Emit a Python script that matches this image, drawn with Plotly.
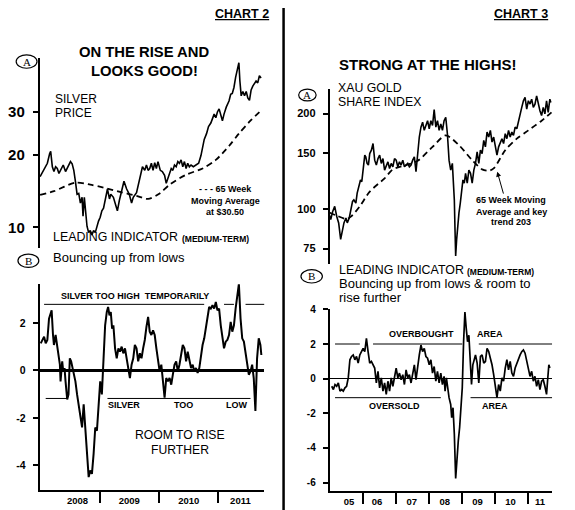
import plotly.graph_objects as go

# the page puts the figure 8px in from the top-left corner, so draw in a
# slightly smaller canvas and shift every reference pixel by that offset
PAGE_W, PAGE_H = 575, 510
OFF = 8
W, H = PAGE_W - OFF, PAGE_H - OFF
SANS = "Liberation Sans, Arial, sans-serif"
SERIF = "Liberation Serif, Times New Roman, serif"

# ---- CHART 2: silver price (decimal years, $) ----
silver_t = [2008.000, 2008.039, 2008.094, 2008.122, 2008.161, 2008.178, 2008.206, 2008.233, 2008.261, 2008.289,
            2008.317, 2008.344, 2008.389, 2008.428, 2008.456, 2008.511, 2008.539, 2008.567, 2008.594, 2008.622,
            2008.650, 2008.678, 2008.706, 2008.722, 2008.744, 2008.761, 2008.789, 2008.817, 2008.844, 2008.872,
            2008.900, 2008.928, 2008.956, 2008.983,
            2009.011, 2009.039, 2009.067, 2009.094, 2009.133, 2009.167, 2009.189, 2009.233, 2009.261, 2009.300,
            2009.333, 2009.372, 2009.411, 2009.456, 2009.500, 2009.539, 2009.567, 2009.622, 2009.667, 2009.689,
            2009.722, 2009.761, 2009.789, 2009.817, 2009.844, 2009.872, 2009.900, 2009.928, 2009.956, 2009.983,
            2010.022, 2010.056, 2010.094, 2010.122, 2010.150, 2010.178, 2010.206, 2010.233, 2010.261, 2010.289,
            2010.317, 2010.344, 2010.372, 2010.400, 2010.428, 2010.456, 2010.483, 2010.511, 2010.539, 2010.578,
            2010.622, 2010.667, 2010.706, 2010.733, 2010.761, 2010.800, 2010.833, 2010.872, 2010.900, 2010.928,
            2010.956, 2010.983,
            2011.011, 2011.039, 2011.067, 2011.094, 2011.133, 2011.178, 2011.206, 2011.233, 2011.261, 2011.289,
            2011.317, 2011.344, 2011.361, 2011.383, 2011.411, 2011.439, 2011.467, 2011.494, 2011.522, 2011.550,
            2011.578, 2011.606, 2011.633, 2011.661, 2011.689, 2011.717]
silver_price = [16.2, 16.9, 17.8, 18.4, 20.2, 20.6, 17.8, 17.0, 17.8, 17.5,
                16.7, 17.2, 18.1, 17.0, 17.5, 18.7, 18.3, 17.2, 15.5, 13.7,
                13.8, 12.6, 13.3, 11.1, 13.3, 11.7, 10.1, 9.5, 9.7, 9.3,
                9.7, 9.5, 10.1, 10.6,
                11.0, 11.7, 12.0, 12.9, 14.4, 13.1, 13.7, 13.3, 12.6, 11.7,
                12.9, 14.2, 15.5, 14.4, 13.7, 12.6, 13.3, 13.9, 15.5, 16.7,
                17.8, 17.2, 18.1, 17.2, 17.5, 18.4, 17.2, 18.5, 17.5, 18.7,
                17.2, 17.0, 16.4, 15.2, 16.0, 16.7, 17.5, 17.2, 18.1, 17.8,
                18.7, 18.4, 19.0, 17.8, 18.7, 17.5, 18.4, 17.8, 18.1, 17.8,
                18.1, 18.4, 19.8, 21.7, 23.1, 24.4, 26.1, 27.0, 28.1, 29.4,
                28.4, 30.0,
                30.9, 29.4, 27.6, 29.4, 31.5, 33.3, 35.5, 35.8, 37.9, 41.7,
                44.2, 48.0, 40.3, 35.0, 36.5, 35.0, 36.5, 34.3, 33.5, 37.0,
                38.4, 39.2, 40.3, 39.6, 42.4, 41.5]

silver_ma_t = [2008.000, 2008.233, 2008.594, 2008.844, 2009.067, 2009.344, 2009.622, 2009.817, 2010.011,
               2010.178, 2010.456, 2010.733, 2010.956, 2011.178, 2011.344, 2011.539, 2011.717]
silver_ma = [13.6, 14.1, 15.3, 15.0, 14.6, 14.0, 13.5, 13.1, 13.8,
             15.0, 16.5, 17.5, 19.0, 21.7, 24.4, 27.6, 30.4]

silver_ind_t = [2008.011, 2008.039, 2008.067, 2008.094, 2008.122, 2008.150, 2008.178, 2008.194, 2008.217, 2008.233,
                2008.261, 2008.289, 2008.317, 2008.333, 2008.344, 2008.372, 2008.389, 2008.411, 2008.428, 2008.456,
                2008.478, 2008.500, 2008.522, 2008.556, 2008.594, 2008.622, 2008.650, 2008.678, 2008.706, 2008.733,
                2008.761, 2008.789, 2008.817, 2008.844, 2008.872, 2008.900, 2008.928, 2008.956, 2008.983,
                2009.011, 2009.039, 2009.067, 2009.094, 2009.122, 2009.144, 2009.167, 2009.189, 2009.211, 2009.233,
                2009.261, 2009.289, 2009.317, 2009.344, 2009.372, 2009.400, 2009.428, 2009.456, 2009.483, 2009.511,
                2009.539, 2009.567, 2009.594, 2009.622, 2009.650, 2009.678, 2009.706, 2009.733, 2009.761, 2009.789,
                2009.817, 2009.844, 2009.872, 2009.900, 2009.928, 2009.956, 2009.983,
                2010.011, 2010.039, 2010.067, 2010.094, 2010.122, 2010.150, 2010.178, 2010.206, 2010.233, 2010.261,
                2010.289, 2010.317, 2010.344, 2010.372, 2010.400, 2010.428, 2010.456, 2010.483, 2010.511, 2010.539,
                2010.567, 2010.594, 2010.622, 2010.650, 2010.678, 2010.706, 2010.733, 2010.761, 2010.789, 2010.817,
                2010.844, 2010.872, 2010.900, 2010.928, 2010.956, 2010.983,
                2011.011, 2011.039, 2011.067, 2011.094, 2011.122, 2011.150, 2011.178, 2011.206, 2011.233, 2011.261,
                2011.289, 2011.317, 2011.344, 2011.372, 2011.400, 2011.428, 2011.456, 2011.483, 2011.511, 2011.539,
                2011.567, 2011.594, 2011.622, 2011.650, 2011.678, 2011.706, 2011.722]
silver_ind = [1.14, 1.28, 1.42, 1.14, 1.28, 2.18, 2.46, 2.53, 1.49, 1.07,
              1.49, 0.93, 0.51, 0.24, -0.46, 0.38, -0.04, 0.10, -0.46, -1.22,
              -1.01, 0.51, 0.38, -0.04, -0.46, -1.01, -1.43, -1.99, -2.40, -1.43,
              -2.54, -3.51, -4.49, -4.21, -4.35, -3.51, -2.40, -2.54, -1.29,
              -0.46, -1.01, 0.24, 1.90, 2.46, 2.67, 2.32, 2.46, 1.76, 1.90,
              0.93, 0.51, 0.93, 0.79, 1.00, 0.72, 0.93, 0.38, 0.10, -0.32,
              0.24, 0.51, 1.07, 0.93, 0.38, 0.72, 0.51, 0.93, 1.28, 1.83,
              2.25, 1.63, 1.49, 1.69, 1.49, 0.93, 0.38,
              -0.04, 0.24, -0.46, -1.15, -0.32, -0.46, -0.32, -0.60, -0.18, 0.24,
              0.38, -0.04, 0.24, 0.72, 1.07, 0.93, 0.38, 0.79, 0.44, 0.10,
              0.24, -0.04, 0.10, -0.11, 0.10, 0.65, 1.07, 1.35, 1.76, 2.18,
              2.67, 2.60, 2.74, 2.60, 2.88, 2.53,
              2.60, 1.90, 1.35, 0.93, 1.21, 1.28, 1.49, 2.04, 1.63, 1.90,
              2.60, 3.15, 3.64, 2.18, 1.35, 1.21, 0.79, 0.38, -0.18, -0.04,
              0.24, -0.32, -1.71, 0.51, 1.35, 1.07, 0.65]

# ---- CHART 3: XAU gold share index ----
xau_t = [2004.98, 2005.02, 2005.08, 2005.14, 2005.20, 2005.26, 2005.32, 2005.36, 2005.42, 2005.48,
         2005.52, 2005.58, 2005.62, 2005.68, 2005.72, 2005.78, 2005.82, 2005.88, 2005.92, 2005.96,
         2006.00, 2006.05, 2006.08, 2006.12, 2006.16, 2006.20, 2006.25, 2006.30, 2006.35, 2006.40,
         2006.45, 2006.50, 2006.55, 2006.60, 2006.65, 2006.70, 2006.75, 2006.80, 2006.85, 2006.90,
         2006.95, 2007.00, 2007.05, 2007.10, 2007.15, 2007.20, 2007.25, 2007.30, 2007.35, 2007.40,
         2007.45, 2007.50, 2007.55, 2007.60, 2007.65, 2007.70, 2007.75, 2007.80, 2007.85, 2007.90,
         2007.95, 2008.00, 2008.05, 2008.10, 2008.15, 2008.20, 2008.25, 2008.30, 2008.35, 2008.40,
         2008.45, 2008.50, 2008.55, 2008.60, 2008.65, 2008.70, 2008.73, 2008.76, 2008.78, 2008.80,
         2008.83, 2008.86, 2008.90, 2008.94, 2008.98, 2009.02, 2009.06, 2009.10, 2009.15, 2009.20,
         2009.25, 2009.30, 2009.35, 2009.40, 2009.45, 2009.50, 2009.55, 2009.60, 2009.65, 2009.70,
         2009.75, 2009.80, 2009.85, 2009.90, 2009.95, 2010.00, 2010.05, 2010.10, 2010.15, 2010.20,
         2010.25, 2010.30, 2010.35, 2010.40, 2010.45, 2010.50, 2010.55, 2010.60, 2010.65, 2010.70,
         2010.75, 2010.80, 2010.85, 2010.90, 2010.95, 2011.00, 2011.05, 2011.10, 2011.15, 2011.20,
         2011.25, 2011.30, 2011.35, 2011.40, 2011.45, 2011.50, 2011.55, 2011.60, 2011.65, 2011.68]
xau = [96.0, 92.6, 98.3, 101.9, 94.9, 90.4, 80.2, 84.1, 90.4, 93.7,
       90.4, 93.7, 99.5, 105.7, 106.9, 104.4, 112.2, 120.6, 123.5, 122.0,
       135.9, 147.9, 146.1, 139.3, 137.6, 149.6, 153.3, 160.9, 142.6, 137.6,
       144.3, 147.9, 139.3, 144.3, 132.7, 137.6, 140.9, 134.3, 139.3, 135.9,
       144.3, 142.6, 135.9, 140.9, 137.6, 142.6, 135.9, 137.6, 139.3, 135.9,
       137.6, 142.6, 146.1, 131.1, 151.4, 168.7, 181.3, 187.8, 177.1, 183.5,
       190.0, 179.2, 190.0, 183.5, 206.0, 181.3, 190.0, 177.1, 185.6, 177.1,
       190.0, 194.8, 172.8, 142.6, 132.7, 139.3, 120.6, 106.9, 86.2, 71.1,
       80.2, 88.3, 97.2, 104.4, 114.9, 123.5, 120.6, 129.6, 120.6, 132.7,
       129.6, 120.6, 132.7, 139.3, 151.4, 139.3, 153.3, 149.6, 164.6, 157.1,
       174.9, 168.7, 177.1, 162.7, 168.7, 159.0, 147.9, 157.1, 162.7, 166.7,
       160.9, 172.8, 166.7, 177.1, 168.7, 174.9, 170.7, 181.3, 179.2, 190.0,
       199.6, 209.3, 219.6, 224.9, 206.8, 219.6, 214.3, 222.2, 209.3, 214.3,
       227.5, 214.3, 204.2, 197.3, 209.3, 199.6, 219.6, 201.9, 222.2, 216.9]

xau_ma_t = [2004.98, 2005.20, 2005.50, 2005.65, 2005.90, 2006.20, 2006.65, 2006.90, 2007.30, 2007.65, 2008.10,
            2008.50, 2008.90, 2009.30, 2009.60, 2009.80, 2009.95, 2010.30, 2010.65, 2011.00, 2011.40, 2011.70]
xau_ma = [97.5, 95.3, 93.0, 95.0, 102.0, 113.5, 125.0, 133.4, 137.6, 141.9, 157.0,
          170.7, 159.0, 142.6, 133.4, 132.1, 134.3, 153.3, 166.7, 177.1, 190.0, 201.9]

xau_ind_t = [2005.05, 2005.10, 2005.15, 2005.20, 2005.25, 2005.30, 2005.35, 2005.40, 2005.45, 2005.50,
             2005.55, 2005.60, 2005.65, 2005.70, 2005.75, 2005.80, 2005.85, 2005.90, 2005.95, 2006.00,
             2006.05, 2006.10, 2006.15, 2006.20, 2006.25, 2006.30, 2006.35, 2006.40, 2006.45, 2006.50,
             2006.55, 2006.60, 2006.65, 2006.70, 2006.75, 2006.80, 2006.85, 2006.90, 2006.95, 2007.00,
             2007.05, 2007.10, 2007.15, 2007.20, 2007.25, 2007.30, 2007.35, 2007.40, 2007.45, 2007.50,
             2007.55, 2007.60, 2007.65, 2007.70, 2007.75, 2007.80, 2007.85, 2007.90, 2007.95, 2008.00,
             2008.05, 2008.10, 2008.15, 2008.20, 2008.25, 2008.30, 2008.35, 2008.40, 2008.45, 2008.48,
             2008.52, 2008.55, 2008.60, 2008.65, 2008.68, 2008.72, 2008.76, 2008.80, 2008.84, 2008.88,
             2008.92, 2008.96, 2009.00, 2009.04, 2009.08, 2009.12, 2009.16, 2009.20, 2009.24, 2009.28,
             2009.32, 2009.36, 2009.40, 2009.45, 2009.50, 2009.55, 2009.60, 2009.65, 2009.70, 2009.75,
             2009.80, 2009.85, 2009.90, 2009.95, 2010.00, 2010.05, 2010.10, 2010.15, 2010.20, 2010.25,
             2010.30, 2010.35, 2010.40, 2010.45, 2010.50, 2010.55, 2010.60, 2010.65, 2010.70, 2010.75,
             2010.80, 2010.85, 2010.90, 2010.95, 2011.00, 2011.05, 2011.10, 2011.15, 2011.20, 2011.25,
             2011.30, 2011.35, 2011.40, 2011.45, 2011.50, 2011.55, 2011.58, 2011.62, 2011.65]
xau_ind = [-0.44, -0.63, -0.34, -0.44, -0.25, -0.72, -0.63, -0.72, -0.53, -0.44,
           0.04, 1.09, 1.28, 1.37, 1.09, 1.28, 0.90, 1.37, 1.56, 1.75,
           1.56, 2.32, 1.56, 0.90, 0.99, 0.80, 0.61, -0.25, 0.42, -0.53,
           0.04, -0.72, -0.25, -0.91, -0.15, -0.72, 0.04, -0.44, 0.23, 0.61,
           0.04, 0.32, -0.06, 0.23, -0.34, 0.51, 0.04, 0.23, -0.25, 0.42,
           0.80, -0.06, 0.80, 1.37, 1.94, 1.56, 1.75, 1.28, 1.18, 0.80,
           1.09, 0.32, 0.70, -0.15, 0.42, -0.25, 0.32, -0.34, 0.13, -0.72,
           0.04, -0.53, -1.10, -1.49, -2.25, -1.68, -3.20, -5.77, -4.53, -3.58,
           -2.82, -1.87, -0.53, 2.13, 3.85, 2.90, 2.13, 2.51, 1.09, -0.34,
           0.80, 1.18, 1.37, 0.90, -0.25, 1.28, 1.37, 0.90, 0.99, 1.75,
           1.56, 1.18, 0.80, 0.23, -0.34, -1.10, -0.34, -0.72, 0.04, -0.15,
           0.61, 1.09, 0.51, 0.99, 0.32, 0.13, 0.61, 0.90, 1.09, 1.37,
           1.56, 1.66, 1.47, 0.99, 0.51, 0.13, 0.42, -0.15, 0.13, -0.44,
           -0.06, -0.63, -0.15, -0.06, -0.44, -0.91, -0.15, 0.80, 0.61]

# axis ticks / labels
silver_ticks = [10, 20, 30]
silver_ind_ticks = [-4, -2, 0, 2]
xau_ticks = [75, 100, 150, 200]
xau_ind_ticks = [-6, -4, -2, 0, 2, 4]
left_years = [2009, 2010, 2011]
left_year_pos = [2008.63, 2009.5, 2010.5, 2011.37]
left_year_text = ["2008", "2009", "2010", "2011"]
right_years = [2006, 2007, 2008, 2009, 2010, 2011]
right_year_pos = [2005.57, 2006.42, 2007.47, 2008.47, 2009.46, 2010.46, 2011.35]
right_year_text = ["05", "06", "07", "08", "09", "10", "11"]

# reference levels: (level, [(start, end), ...])
silver_high = (2.78, [(2008.067, 2010.76), (2011.094, 2011.261), (2011.456, 2011.82)])
silver_low = (-1.18, [(2008.094, 2008.456), (2009.133, 2011.539)])
xau_over = (2.0, [(2005.15, 2005.90), (2006.30, 2009.00), (2009.50, 2011.72)])
xau_under = (-1.10, [(2005.15, 2008.35), (2009.25, 2011.72)])


def px(x, y):
    # reference pixel -> paper coordinates
    return (x - OFF) / W, 1 - (y - OFF) / H


def dom_x(a, b):
    return [px(a, 0)[0], px(b, 0)[0]]


def dom_y(top, bottom):
    return [px(0, bottom)[1], px(0, top)[1]]


def level_trace(level, xaxis, yaxis):
    xs, ys = [], []
    for a, b in level[1]:
        xs += [a, b, None]
        ys += [level[0], level[0], None]
    return go.Scatter(x=xs, y=ys, mode="lines", line=dict(color="black", width=1),
                      xaxis=xaxis, yaxis=yaxis, hoverinfo="skip")


fig = go.Figure()
line = dict(color="black", width=1.6)
dash = dict(color="black", width=1.8, dash="6px,4px", shape="spline", smoothing=0.8)

fig.add_trace(go.Scatter(x=silver_ma_t, y=silver_ma, mode="lines", line=dash, xaxis="x", yaxis="y"))
fig.add_trace(go.Scatter(x=silver_t, y=silver_price, mode="lines", line=line, xaxis="x", yaxis="y"))
fig.add_trace(level_trace(silver_high, "x2", "y2"))
fig.add_trace(level_trace(silver_low, "x2", "y2"))
fig.add_trace(go.Scatter(x=silver_ind_t, y=silver_ind, mode="lines", line=dict(color="black", width=2),
                         xaxis="x2", yaxis="y2"))
fig.add_trace(go.Scatter(x=xau_ma_t, y=xau_ma, mode="lines", line=dash, xaxis="x3", yaxis="y3"))
fig.add_trace(go.Scatter(x=xau_t, y=xau, mode="lines", line=line, xaxis="x3", yaxis="y3"))
fig.add_trace(level_trace(xau_over, "x4", "y4"))
fig.add_trace(level_trace(xau_under, "x4", "y4"))
fig.add_trace(go.Scatter(x=xau_ind_t, y=xau_ind, mode="lines", line=dict(color="black", width=1.7),
                         xaxis="x4", yaxis="y4"))

left_dom = dom_x(36, 262)
right_dom = dom_x(328, 552)
left_rng = [2007.995, 2011.77]
right_rng = [2004.99, 2011.72]

hidden_x = dict(showline=False, showticklabels=False, ticks="", showgrid=False, zeroline=False)


def y_axis(ticks, size, dom, rng, anchor, log=False, zero=0):
    ax = dict(domain=dom, range=rng, anchor=anchor, type="log" if log else "linear",
              tickmode="array", tickvals=ticks, ticktext=[str(t) for t in ticks],
              showline=True, linewidth=2, linecolor="black", ticks="outside", ticklen=5,
              tickwidth=1.5, tickcolor="black", ticklabelstandoff=5, showgrid=False,
              tickfont=dict(family=SANS, size=size, color="black", weight="bold"))
    ax["zeroline"] = zero > 0
    if zero:
        ax["zerolinewidth"] = zero
        ax["zerolinecolor"] = "black"
    return ax


def year_axis(dom, rng, pos, text, bounds, anchor):
    return dict(domain=dom, range=rng, anchor=anchor, showline=True, linewidth=2, linecolor="black",
                tickmode="array", tickvals=pos, ticktext=text, ticks="", showgrid=False, zeroline=False,
                tickfont=dict(family=SANS, size=9.5, color="black", weight="bold"),
                minor=dict(tickmode="array", tickvals=bounds, ticks="outside", ticklen=11,
                           tickwidth=2, tickcolor="black", showgrid=False))


fig.update_layout(
    width=W, height=H, margin=dict(l=0, r=0, t=0, b=0),
    paper_bgcolor="white", plot_bgcolor="white", showlegend=False,
    xaxis=dict(domain=left_dom, range=left_rng, anchor="y", **hidden_x),
    yaxis=y_axis(silver_ticks, 15, dom_y(53, 245), [0.9156, 1.7025], "x", log=True),
    xaxis2=year_axis(left_dom, left_rng, left_year_pos, left_year_text, left_years, "y2"),
    yaxis2=y_axis(silver_ind_ticks, 10.5, dom_y(282, 490), [-5.04, 3.625], "x2", zero=3),
    xaxis3=dict(domain=right_dom, range=right_rng, anchor="y3", **hidden_x),
    yaxis3=y_axis(xau_ticks, 11, dom_y(85, 262), [1.825, 2.378], "x3", log=True),
    xaxis4=year_axis(right_dom, right_rng, right_year_pos, right_year_text, right_years, "y4"),
    yaxis4=y_axis(xau_ind_ticks, 10, dom_y(307, 491), [-6.5, 4.02], "x4", zero=1),
)

# panel divider and circled letters
x0, _ = px(281.5, 0)
fig.add_shape(type="line", xref="paper", yref="paper", x0=x0, x1=x0, y0=0, y1=1.02,
              line=dict(color="black", width=2.5))
circles = [("A", 22.7, 57, 10.5, 6.8), ("B", 24.5, 258.3, 10.5, 6.7),
           ("A", 305.5, 90.8, 8.8, 6), ("B", 309.8, 274, 10.8, 6.7)]
for letter, cx, cy, rx, ry in circles:
    xa, ya = px(cx - rx, cy + ry)
    xb, yb = px(cx + rx, cy - ry)
    fig.add_shape(type="circle", xref="paper", yref="paper", x0=xa, x1=xb, y0=ya, y1=yb,
                  line=dict(color="black", width=1.2))


def label(x, y, text, size, bold=False, anchor="center", family=SANS):
    # middle-anchored text sits a little low, so lift it by a fraction of its size
    ax, ay = px(x, y - 0.22 * size)
    return dict(x=ax, y=ay, xref="paper", yref="paper", showarrow=False,
                text="<b>%s</b>" % text if bold else text, xanchor=anchor, yanchor="middle",
                font=dict(family=family, size=size, color="black"))


notes = [
    label(240, 12, "<u>CHART 2</u>", 12.5, True),
    label(140.5, 51, "ON THE RISE AND", 14.8, True),
    label(141, 70, "LOOKS GOOD!", 14.8, True),
    label(49, 98, "SILVER", 12, anchor="left"),
    label(49, 112, "PRICE", 12, anchor="left"),
    label(223.5, 188, "- - - 65 Week", 9, True),
    label(223, 200, "Moving Average", 9, True),
    label(223, 211, "at $30.50", 9, True),
    label(47, 237, "LEADING INDICATOR", 12.4, anchor="left"),
    label(177, 238, "(MEDIUM-TERM)", 8.5, True, anchor="left"),
    label(47, 257.5, "Bouncing up from lows", 13, anchor="left"),
    label(131.7, 295.5, "SILVER TOO HIGH  TEMPORARILY", 9, True),
    label(121, 406, "SILVER", 9, True),
    label(180.7, 406, "TOO", 9, True),
    label(234, 406, "LOW", 9, True),
    label(177.5, 437, "ROOM TO RISE", 12.2),
    label(177.5, 452, "FURTHER", 12.2),
    label(521, 12, "<u>CHART 3</u>", 12.5, True),
    label(427, 63, "STRONG AT THE HIGHS!", 15, True),
    label(334, 86, "XAU GOLD", 12.3, anchor="left"),
    label(334, 100.5, "SHARE INDEX", 12.3, anchor="left"),
    label(511, 199, "65 Week Moving", 9, True),
    label(511, 210.5, "Average and key", 9, True),
    label(511, 221, "trend 203", 9, True),
    label(335, 270, "LEADING INDICATOR", 12.4, anchor="left"),
    label(464, 271, "(MEDIUM-TERM)", 8.5, True, anchor="left"),
    label(335, 284.5, "Bouncing up from lows &amp; room to", 13, anchor="left"),
    label(335, 298.5, "rise further", 13, anchor="left"),
    label(420.8, 334.5, "OVERBOUGHT", 9, True),
    label(489, 334.5, "AREA", 9, True),
    label(393, 406.7, "OVERSOLD", 9, True),
    label(494.7, 406.7, "AREA", 9, True),
]
for letter, cx, cy, rx, ry in circles:
    notes.append(label(cx, cy + 2.5, letter, 11, family=SERIF))

tip_x, tip_y = px(496.7, 168.3)
notes.append(dict(x=tip_x, y=tip_y, xref="paper", yref="paper", text="", showarrow=True,
                  ax=6.6, ay=23.4, arrowhead=2, arrowsize=1, arrowwidth=1, arrowcolor="black"))
fig.update_layout(annotations=notes)

fig.write_html("out.html")
